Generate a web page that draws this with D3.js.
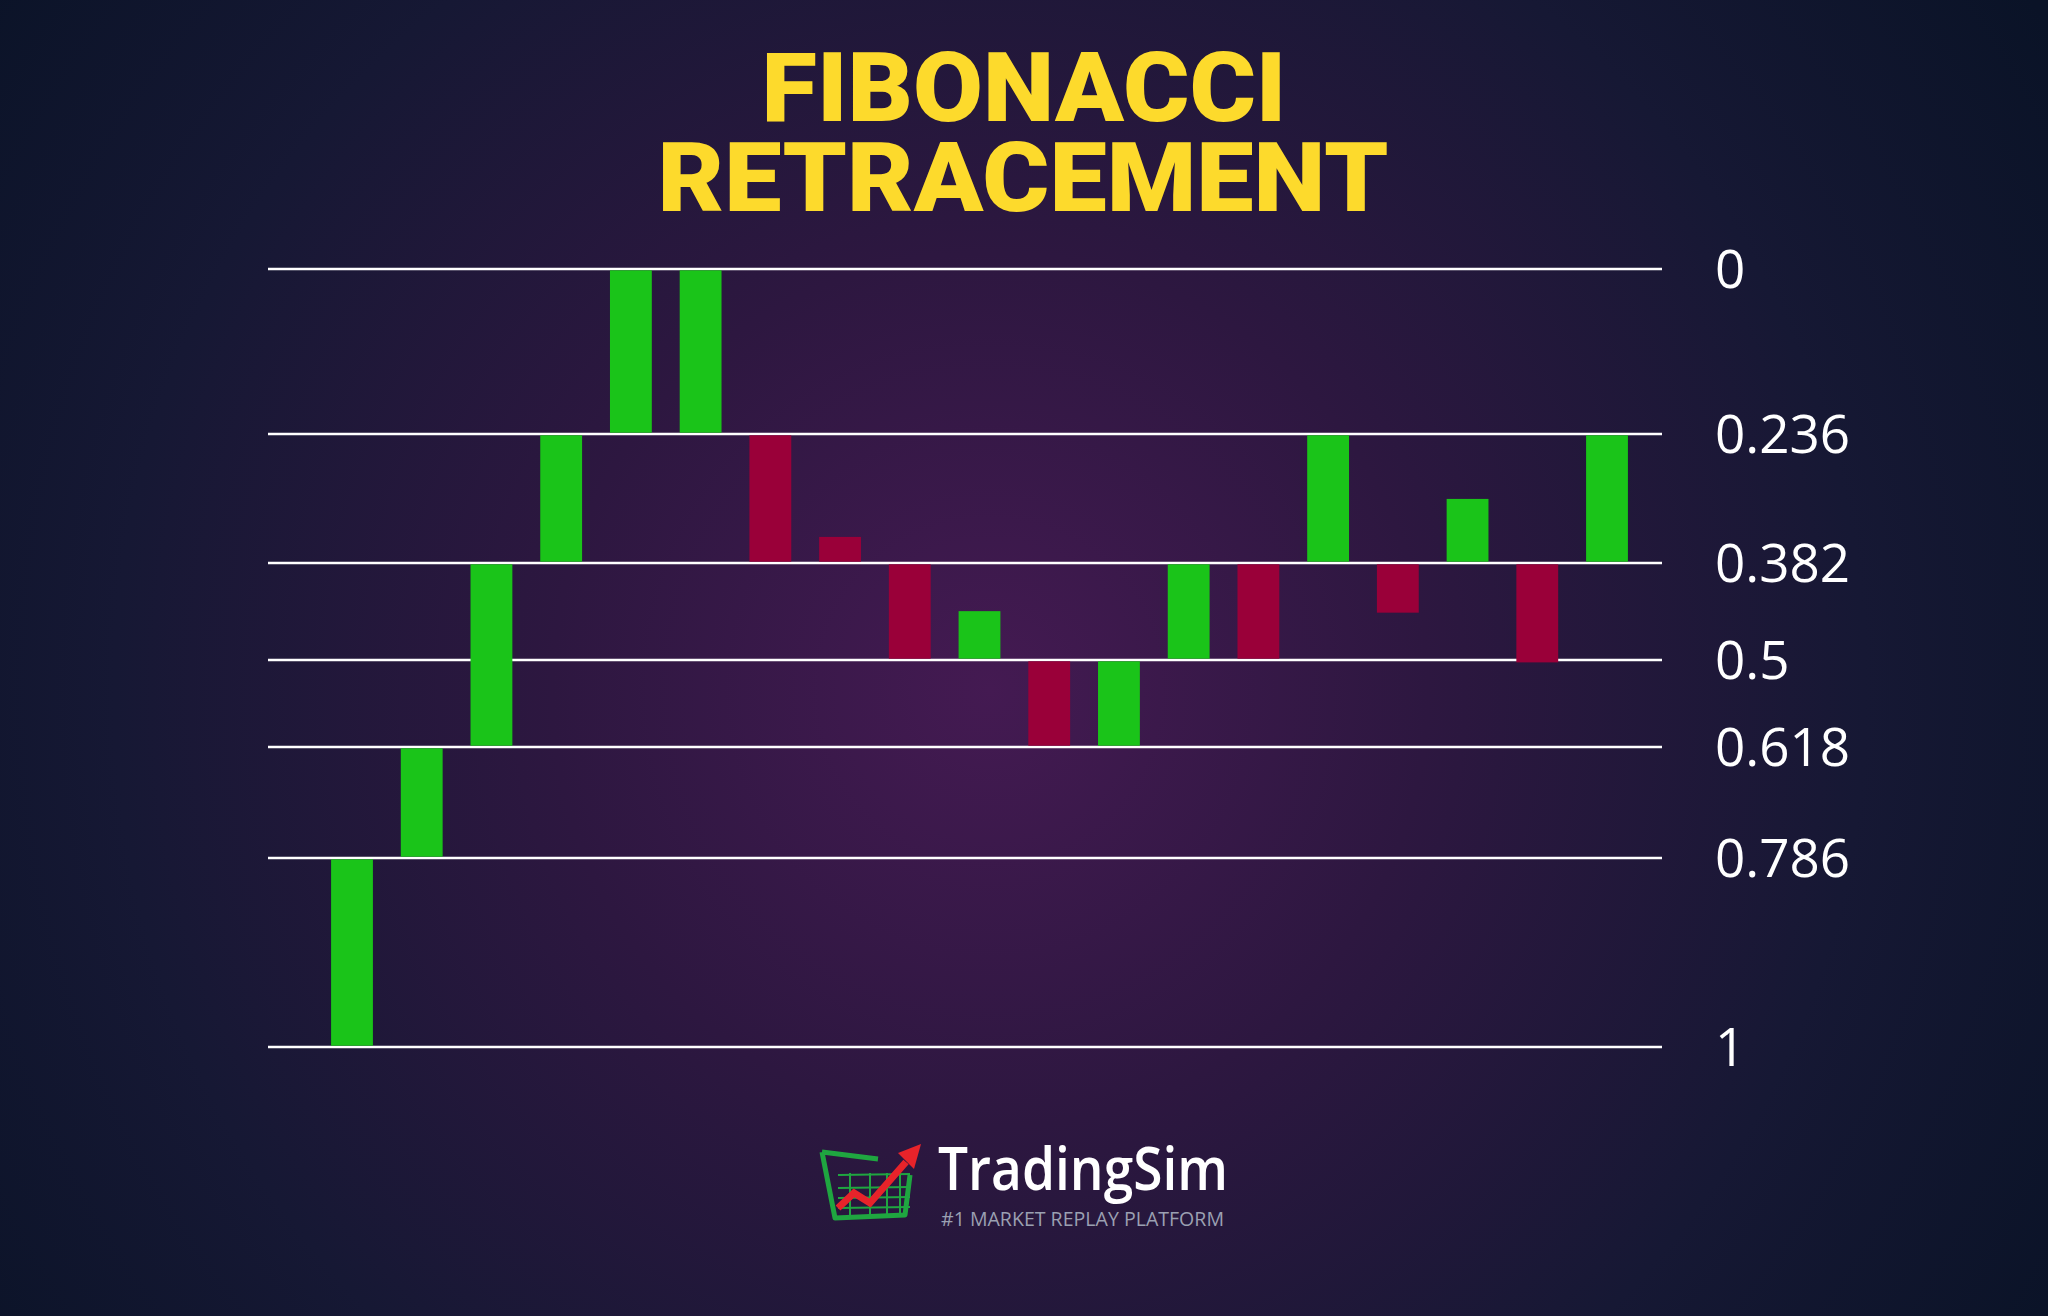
<!DOCTYPE html>
<html>
<head>
<meta charset="utf-8">
<script src="https://cdn.jsdelivr.net/npm/d3@7"></script>
<style>
  html, body { margin: 0; padding: 0; background: #0c1429; }
  svg { display: block; }
</style>
</head>
<body>
<svg id="chart" width="2048" height="1316"></svg>
<script>
// ---- Data ----
const titleLines = ["FIBONACCI", "RETRACEMENT"];
const levels = [0, 0.236, 0.382, 0.5, 0.618, 0.786, 1];
const levelLabels = ["0", "0.236", "0.382", "0.5", "0.618", "0.786", "1"];
// candle bodies expressed in retracement levels (open -> close)
const candleOpen  = [1, 0.786, 0.618, 0.382, 0.236, 0.236, 0.236, 0.351, 0.382, 0.5, 0.5, 0.618, 0.5, 0.382, 0.382, 0.382, 0.382, 0.382, 0.382];
const candleClose = [0.786, 0.618, 0.382, 0.236, 0, 0, 0.382, 0.382, 0.5, 0.439, 0.618, 0.5, 0.382, 0.5, 0.236, 0.444, 0.308, 0.505, 0.236];
const brandName = "TradingSim";
const brandTag = "#1 MARKET REPLAY PLATFORM";

// ---- Layout ----
const W = 2048, H = 1316;
const svg = d3.select("#chart");

// background
const defs = svg.append("defs");
const rg = defs.append("radialGradient").attr("id", "bg")
  .attr("gradientUnits", "userSpaceOnUse")
  .attr("cx", 990).attr("cy", 690).attr("r", 1250);
rg.append("stop").attr("offset", "0").attr("stop-color", "#441a52");
rg.append("stop").attr("offset", "0.35").attr("stop-color", "#2d1740");
rg.append("stop").attr("offset", "0.7").attr("stop-color", "#161834");
rg.append("stop").attr("offset", "1").attr("stop-color", "#0a1327");
svg.append("rect").attr("width", W).attr("height", H).attr("fill", "url(#bg)");

// scales
const y = d3.scaleLinear()
  .domain(levels)
  .range([269, 434, 563, 660, 747, 858, 1047]);
const idx = d3.range(candleOpen.length);
const x = d3.scalePoint().domain(idx).range([352, 1607]);
const bw = x.step() * 0.6;

// title
const title = svg.append("g")
  .attr("font-family", "Roboto, 'Liberation Sans', sans-serif")
  .attr("font-weight", 900)
  .attr("fill", "#fdda2c")
  .attr("text-anchor", "middle");
title.append("text").attr("x", 1024).attr("y", 121).attr("font-size", 97)
  .attr("textLength", 525).attr("lengthAdjust", "spacingAndGlyphs").text(titleLines[0]);
title.append("text").attr("x", 1023).attr("y", 211).attr("font-size", 97)
  .attr("textLength", 731).attr("lengthAdjust", "spacingAndGlyphs").text(titleLines[1]);

// level lines
svg.append("g").selectAll("line").data(levels).join("line")
  .attr("x1", 268).attr("x2", 1662)
  .attr("y1", d => y(d)).attr("y2", d => y(d))
  .attr("stroke", "#ffffff").attr("stroke-width", 2.6);

// candles
svg.append("g").selectAll("rect").data(idx).join("rect")
  .attr("x", i => x(i) - bw / 2)
  .attr("width", bw)
  .attr("y", i => y(Math.min(candleOpen[i], candleClose[i])) + 1.3)
  .attr("height", i => Math.abs(y(candleOpen[i]) - y(candleClose[i])) - 2.6)
  .attr("fill", i => candleClose[i] < candleOpen[i] ? "#1ac419" : "#9a0039");

// level labels
svg.append("g").selectAll("text").data(levels).join("text")
  .attr("x", 1715)
  .attr("y", d => y(d))
  .attr("dy", "0.36em")
  .attr("font-family", "'Open Sans', 'Noto Sans', sans-serif")
  .attr("font-size", 53)
  .attr("fill", "#ffffff")
  .text((d, i) => levelLabels[i]);

// brand logo
const logo = svg.append("g").attr("transform", "translate(810,1135)");
const green = "#1fa640";
logo.append("path")
  .attr("d", "M12,17 L68,24 M12,17 L25,83 L95,80 L100,40")
  .attr("fill", "none").attr("stroke", green).attr("stroke-width", 5).attr("stroke-linejoin", "round");
// grid inside basket
const gridH = [40, 53, 63, 73];
const gridV = [40, 60, 77, 90];
logo.append("g").selectAll("line.h").data(gridH).join("line")
  .attr("x1", 28).attr("x2", 100).attr("y1", d => d).attr("y2", d => d - 1)
  .attr("stroke", green).attr("stroke-width", 2);
logo.append("g").selectAll("line.v").data(gridV).join("line")
  .attr("x1", d => d).attr("x2", d => d).attr("y1", 38).attr("y2", 81)
  .attr("stroke", green).attr("stroke-width", 2);
logo.append("path")
  .attr("d", "M28,73 L44,58 L60,68 L96,27")
  .attr("fill", "none").attr("stroke", "#e8232a").attr("stroke-width", 7).attr("stroke-linejoin", "miter");
logo.append("path")
  .attr("d", "M111,9 L88,18 L104,34 Z")
  .attr("fill", "#e8232a");

svg.append("text").attr("x", 938).attr("y", 1190)
  .attr("font-family", "'Open Sans', sans-serif").attr("font-weight", 600)
  .attr("font-size", 60).attr("fill", "#ffffff")
  .attr("textLength", 290).attr("lengthAdjust", "spacingAndGlyphs")
  .text(brandName);
svg.append("text").attr("x", 941).attr("y", 1226)
  .attr("font-family", "'Open Sans', sans-serif").attr("font-weight", 400)
  .attr("font-size", 20).attr("fill", "#9ba0b2")
  .attr("textLength", 283).attr("lengthAdjust", "spacingAndGlyphs")
  .text(brandTag);
</script>
</body>
</html>
